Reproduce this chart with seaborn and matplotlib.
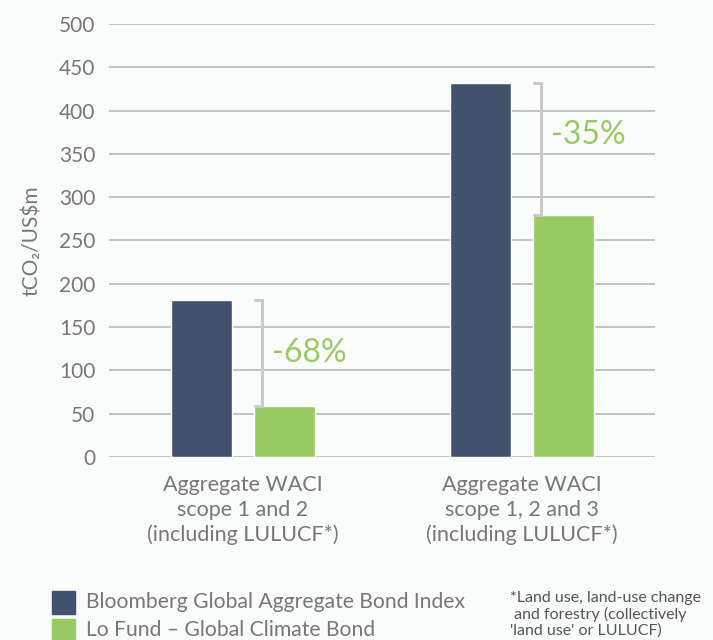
import matplotlib
matplotlib.use("Agg")
import matplotlib.pyplot as plt
import seaborn as sns
import pandas as pd
from matplotlib.patches import Rectangle

categories = ["Aggregate WACI\nscope 1 and 2\n(including LULUCF*)",
              "Aggregate WACI\nscope 1, 2 and 3\n(including LULUCF*)"]
series_names = ["Bloomberg Global Aggregate Bond Index", "Lo Fund – Global Climate Bond"]
benchmark_values = [181, 432]
fund_values = [59, 279]
change_labels = ["-68%", "-35%"]
yticks = [0, 50, 100, 150, 200, 250, 300, 350, 400, 450, 500]

DARK = "#42516d"
GREEN = "#98ca64"
BG = "#fafbfb"
GRAY = "#777777"

sns.set_theme(style="white")
plt.rcParams["font.family"] = ["Lato", "DejaVu Sans"]

df = pd.DataFrame({
    "category": categories * 2,
    "series": [series_names[0]] * 2 + [series_names[1]] * 2,
    "value": benchmark_values + fund_values,
})

fig = plt.figure(figsize=(7.13, 6.4), dpi=100, facecolor=BG)
ax = fig.add_axes([0.153, 0.286, 0.766, 0.6765])
ax.set_facecolor(BG)

sns.barplot(data=df, x="category", y="value", hue="series", order=categories,
            hue_order=series_names, palette=[DARK, GREEN], width=0.595, gap=0.26,
            legend=False, ax=ax, saturation=1, zorder=3)

ax.set_ylim(0, 500)
ax.set_xlim(-0.48, 1.477)
ax.set_yticks(yticks)
ax.set_yticklabels([str(t) for t in yticks], fontsize=15, color=GRAY)
ax.yaxis.grid(True, color="#bdbdbd", linewidth=1.3, zorder=0)
ax.set_axisbelow(True)
for s in ax.spines.values():
    s.set_visible(False)
ax.tick_params(axis="y", length=0, pad=10)
ax.set_xticks(range(len(categories)))
ax.set_xticklabels(categories, fontsize=15.5, color=GRAY, linespacing=1.3)
ax.tick_params(axis="x", length=0, pad=13)
ax.set_xlabel("")
ax.set_ylabel("tCO₂/US$m", fontsize=15, color=GRAY, labelpad=12)

# brackets and change labels
label_offsets = [0, 16]
for i, (b, f, lab) in enumerate(zip(benchmark_values, fund_values, change_labels)):
    xb = i + 0.068
    xl = i + 0.043
    ax.plot([xl, xb, xb, xl], [b, b, f, f], color="#c9c9c9", lw=2.2, zorder=4,
            solid_joinstyle="miter")
    ax.text(i + 0.104, (b + f) / 2 + label_offsets[i], lab, color=GREEN, fontsize=23,
            va="center", ha="left")

# legend
leg_y = [602 / 640, 630 / 640]
for col, name, yy in zip([DARK, GREEN], series_names, leg_y):
    fig.patches.append(Rectangle((52 / 713, 1 - yy - 11.5 / 640), 23 / 713, 23 / 640,
                                 transform=fig.transFigure, color=col, figure=fig))
    fig.text(86 / 713, 1 - yy, name, fontsize=15.2, color=GRAY, va="center", ha="left")

fig.text(510 / 713, 1 - 591 / 640,
         "*Land use, land-use change\n and forestry (collectively\n'land use' or LULUCF)",
         fontsize=11.5, color="#555555", va="top", ha="left", linespacing=1.15)

fig.savefig("out.png", dpi=100, facecolor=BG)
